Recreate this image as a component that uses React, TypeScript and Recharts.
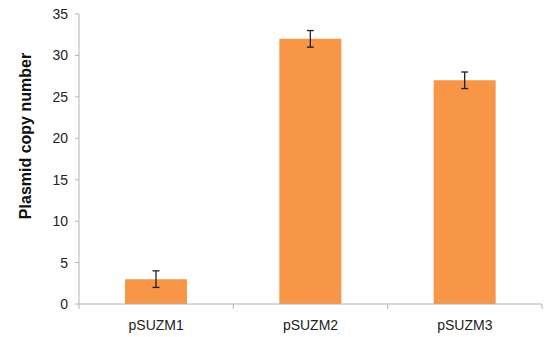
import React from 'react';
import { BarChart, Bar, XAxis, YAxis, ErrorBar, Label } from 'recharts';

const categories = ['pSUZM1', 'pSUZM2', 'pSUZM3'];
const copyNumbers = [3, 32, 27];
const errors = [1, 1, 1];
const yTicks = [0, 5, 10, 15, 20, 25, 30, 35];

const data = categories.map((name, i) => ({ name, value: copyNumbers[i], err: errors[i] }));

const FONT = 'Liberation Sans, Arial, Helvetica, sans-serif';
const AXIS = '#b3b3b3';

const CatTick = (props: any) => {
  const { x, y, payload, index } = props;
  const bw = 463 / categories.length;
  const axisY = y - 16;
  return (
    <g>
      <line x1={x - bw / 2} x2={x - bw / 2} y1={axisY} y2={axisY + 5} stroke={AXIS} />
      {index === categories.length - 1 && (
        <line x1={x + bw / 2} x2={x + bw / 2} y1={axisY} y2={axisY + 5} stroke={AXIS} />
      )}
      <text x={x} y={y} dy="0.71em" textAnchor="middle" fill="#222" fontSize={14} fontFamily={FONT}>
        {payload.value}
      </text>
    </g>
  );
};

export default function App() {
  return (
    <div style={{ position: 'absolute', left: 0, top: 0, background: '#fff' }}>
      <BarChart width={544} height={337} data={data} margin={{ top: 14, right: 2, bottom: 0, left: 0 }}>
        <XAxis
          dataKey="name"
          height={33}
          stroke={AXIS}
          tickLine={false}
          tickSize={6}
          tickMargin={10}
          tick={<CatTick />}
          interval={0}
        />
        <YAxis
          width={79}
          domain={[0, 35]}
          ticks={yTicks}
          interval={0}
          stroke={AXIS}
          tickSize={4}
          tickMargin={7}
          tick={{ fill: '#222', fontSize: 14, fontFamily: FONT }}
        >
          <Label
            content={(p: any) => {
              const vb = p.viewBox;
              const cx = vb.x + 31;
              const cy = vb.y + 122;
              return (
                <text
                  x={cx}
                  y={cy}
                  transform={`rotate(-90, ${cx}, ${cy})`}
                  textAnchor="middle"
                  fontWeight="bold"
                  fontSize={16}
                  fontFamily={FONT}
                  fill="#111"
                >
                  Plasmid copy number
                </text>
              );
            }}
          />
        </YAxis>
        <Bar dataKey="value" fill="#F79646" barSize={62} isAnimationActive={false}>
          <ErrorBar dataKey="err" width={3.5} stroke="#222" strokeWidth={1.3} />
        </Bar>
      </BarChart>
    </div>
  );
}
